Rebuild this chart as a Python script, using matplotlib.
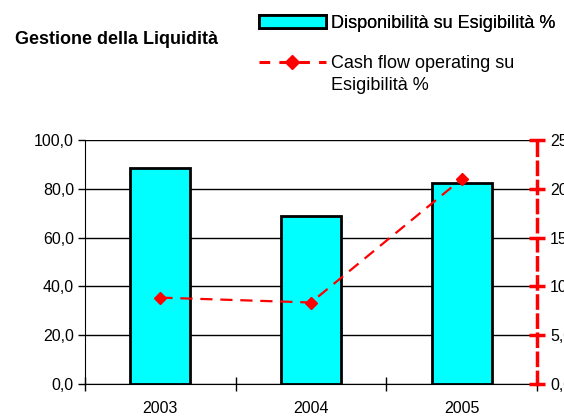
import numpy as np
import matplotlib.pyplot as plt
from matplotlib.patches import Patch
from matplotlib.lines import Line2D

plt.rcParams['font.family'] = ['Liberation Sans', 'DejaVu Sans']

years = ['2003', '2004', '2005']
disponibilita = [88.5, 68.8, 82.2]      # left axis, %
cash_flow = [8.85, 8.35, 21.0]          # right axis, %
left_ticks = [0, 20, 40, 60, 80, 100]
right_ticks = [0, 5, 10, 15, 20, 25]

CYAN = '#00FFFF'
RED = '#FF0000'


def comma_fmt(v, pos):
    return ('%.1f' % v).replace('.', ',')


fig = plt.figure(figsize=(5.64, 4.16), dpi=100)
ax = fig.add_axes([85 / 564, 1 - 384 / 416, 452 / 564, 244 / 416])
x = np.arange(len(years))

# bars on the left scale
ax.bar(x, disponibilita, width=0.4, color=CYAN, edgecolor='black',
       linewidth=2, zorder=3)
ax.set_xlim(-0.5, len(years) - 0.5)
ax.set_ylim(0, 100)
ax.set_yticks(left_ticks)
ax.yaxis.set_major_formatter(plt.FuncFormatter(comma_fmt))
ax.grid(axis='y', color='black', linewidth=1, zorder=0)
ax.set_axisbelow(True)
for s in ['top', 'right']:
    ax.spines[s].set_visible(False)
ax.tick_params(axis='y', direction='out', length=5, width=1, labelsize=11.5, pad=3)

# year labels centred on bars, tick marks between categories
ax.set_xticks(x)
ax.set_xticklabels(years)
ax.set_xticks(np.arange(-0.5, len(years) + 0.5, 1), minor=True)
ax.tick_params(axis='x', which='major', length=0, labelsize=11.5, pad=12)
ax.tick_params(axis='x', which='minor', direction='inout', length=10, width=1)

# line on the right scale
ax2 = ax.twinx()
ax2.plot(x, cash_flow, color=RED, linewidth=1.6, dashes=(5.5, 3.5),
         marker='D', markersize=6.5, zorder=5)
ax2.set_ylim(0, 25)
ax2.set_yticks(right_ticks)
ax2.yaxis.set_major_formatter(plt.FuncFormatter(comma_fmt))
for s in ['top', 'left', 'bottom']:
    ax2.spines[s].set_visible(False)
ax2.spines['right'].set_color(RED)
ax2.spines['right'].set_linewidth(2.5)
ax2.spines['right'].set_linestyle((0, (3.5, 2.0)))
ax2.tick_params(axis='y', direction='inout', length=11, width=2.5, color=RED,
                labelcolor='black', labelsize=11.5, pad=4)

fig.text(15 / 564, 1 - 40 / 416, 'Gestione della Liquidità', fontsize=13,
         fontweight='bold', va='center', ha='left')

# legend: bar entry, then the line entry whose label wraps onto a second row
leg_kw = dict(loc='upper left', frameon=False, fontsize=13, handlelength=3.7,
              handleheight=0.7, handletextpad=0.3, borderpad=0, borderaxespad=0)
leg1 = fig.legend([Patch(facecolor=CYAN, edgecolor='black', linewidth=2)],
                  ['Disponibilità su Esigibilità %'],
                  bbox_to_anchor=(259 / 564, 1 - 15 / 416), **leg_kw)
fig.add_artist(leg1)
fig.legend([Line2D([], [], color=RED, linewidth=2.2, dashes=(3.5, 3),
                   marker='D', markersize=7),
            Line2D([], [], color='none')],
           ['Cash flow operating su', 'Esigibilità %'],
           bbox_to_anchor=(259 / 564, 1 - 55 / 416), labelspacing=0.3, **leg_kw)

fig.savefig('out.png', dpi=100)
